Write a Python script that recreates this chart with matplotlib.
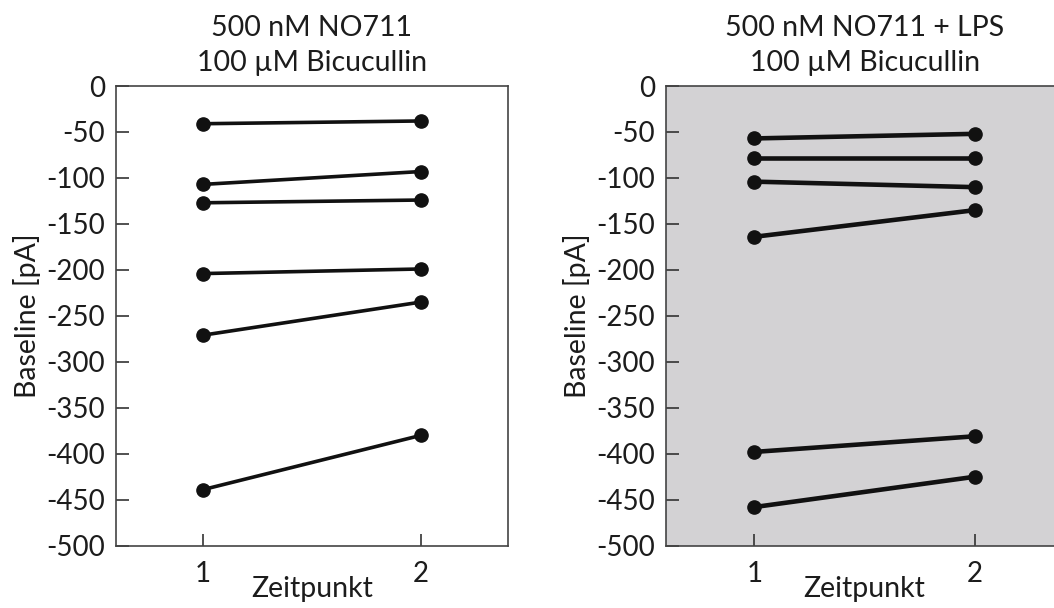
import matplotlib
matplotlib.use("Agg")
import matplotlib.pyplot as plt

plt.rcParams['font.family'] = ['Lato', 'DejaVu Sans']
plt.rcParams['axes.unicode_minus'] = False

zeitpunkt = [1, 2]
yticks = [0, -50, -100, -150, -200, -250, -300, -350, -400, -450, -500]

# baseline current per cell, time point 1 and 2
no711 = [
    [-41, -38],
    [-107, -93],
    [-127, -124],
    [-204, -199],
    [-271, -235],
    [-439, -380],
]
no711_lps = [
    [-57, -52],
    [-78, -78],
    [-104, -110],
    [-164, -135],
    [-398, -381],
    [-458, -425],
]

titles = ["500 nM NO711\n100 µM Bicucullin",
          "500 nM NO711 + LPS\n100 µM Bicucullin"]

ink = '#1c1c1c'
fig = plt.figure(figsize=(10.54, 6.08), dpi=100)
ax1 = fig.add_axes([0.110, 0.1025, 0.372, 0.756])
ax2 = fig.add_axes([0.632, 0.1025, 0.3767, 0.756])

for ax, data, title, bg, lw in [(ax1, no711, titles[0], 'white', 2.6),
                                (ax2, no711_lps, titles[1], '#d3d2d4', 3.3)]:
    ax.set_facecolor(bg)
    for cell in data:
        ax.plot(zeitpunkt, cell, color='#111111', lw=lw, marker='o',
                markersize=9.5, solid_capstyle='round')
    ax.set_xlim(0.6, 2.4)
    ax.set_ylim(-500, 0)
    ax.set_xticks(zeitpunkt)
    ax.set_yticks(yticks)
    ax.tick_params(direction='in', length=9, width=1.2, color='#333333',
                   labelsize=20, labelcolor=ink, pad=8)
    ax.tick_params(axis='x', pad=11)
    for s in ax.spines.values():
        s.set_color('#444444')
        s.set_linewidth(1.2)
    ax.set_title(title, fontsize=20.5, color=ink, pad=11, linespacing=1.42)
    ax.set_xlabel('Zeitpunkt', fontsize=20.5, color=ink, labelpad=-8)
    ax.set_ylabel('Baseline [pA]', fontsize=20.5, color=ink, labelpad=4)

fig.savefig('out.png', dpi=100)
